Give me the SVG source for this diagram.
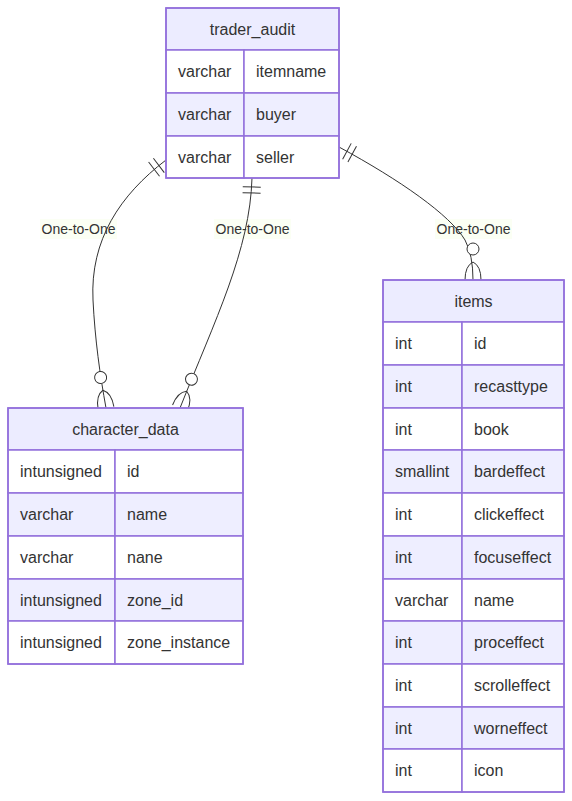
<svg xmlns="http://www.w3.org/2000/svg" width="572" height="801" viewBox="0 0 572 801">
<style>
  .bg { fill: #ffffff; }
  .box { fill: none; stroke: #9370DB; stroke-width: 1.5; }
  .hdr { fill: #ECECFF; stroke: #9370DB; stroke-width: 1.5; }
  .odd { fill: #ffffff; stroke: #9370DB; stroke-width: 1.5; }
  .even { fill: #EEEEFF; stroke: #9370DB; stroke-width: 1.5; }
  .t { font-family: "Liberation Sans", Arial, sans-serif; font-size: 16px; fill: #333333; dominant-baseline: central; }
  .c { text-anchor: middle; }
  .rel { fill: none; stroke: #333333; stroke-width: 1; }
  .lblbg { fill: #f7ffea; opacity: 0.5; }
  .lbl { font-family: "Liberation Sans", Arial, sans-serif; font-size: 14px; fill: #333333; text-anchor: middle; dominant-baseline: central; }
  .mk { fill: none; stroke: #333333; stroke-width: 1; }
  .mkc { fill: #ffffff; stroke: #333333; stroke-width: 1; }
</style>
<defs>
  <g id="one">
    <line class="mk" x1="9" y1="-9" x2="9" y2="9"/>
    <line class="mk" x1="15" y1="-9" x2="15" y2="9"/>
  </g>
  <g id="zom">
    <path class="mk" d="M-8,0 Q-8,-14 0,-18 Q8,-14 8,0"/>
    <circle class="mkc" cx="0" cy="-31" r="6"/>
  </g>
</defs>
<rect class="bg" x="0" y="0" width="572" height="801"/>

<g id="connectors">
  <rect class="lblbg" x="40" y="219" width="77" height="20"/>
  <rect class="lblbg" x="214" y="219" width="77" height="20"/>
  <rect class="lblbg" x="435" y="219" width="77" height="20"/>
  <path class="rel" d="M166,160 C120,195 90,240 93,300 C95,340 100,375 106,408"/>
  <path class="rel" d="M252,178 C250,250 215,320 180,408"/>
  <path class="rel" d="M339,147 C400,180 450,215 465,240 Q473,255 473,280"/>
  <use href="#one" transform="translate(166,160) rotate(142.7)"/>
  <use href="#one" transform="translate(252,178) rotate(91.6)"/>
  <use href="#one" transform="translate(339,147) rotate(28.4)"/>
  <use href="#zom" transform="translate(106,408) rotate(-10)"/>
  <use href="#zom" transform="translate(180,408) rotate(21.7)"/>
  <use href="#zom" transform="translate(473,280)"/>
  <text class="lbl" x="78.5" y="229">One-to-One</text>
  <text class="lbl" x="252.5" y="229">One-to-One</text>
  <text class="lbl" x="473.5" y="229">One-to-One</text>
</g>

<g id="trader_audit">
  <rect class="hdr" x="166" y="8" width="173" height="42"/>
  <text class="t c" x="252.5" y="29">trader_audit</text>
  <rect class="odd" x="166" y="50" width="78" height="43"/>
  <rect class="odd" x="244" y="50" width="95" height="43"/>
  <text class="t" x="178" y="71.5">varchar</text>
  <text class="t" x="256" y="71.5">itemname</text>
  <rect class="even" x="166" y="93" width="78" height="43"/>
  <rect class="even" x="244" y="93" width="95" height="43"/>
  <text class="t" x="178" y="114.5">varchar</text>
  <text class="t" x="256" y="114.5">buyer</text>
  <rect class="odd" x="166" y="136" width="78" height="42"/>
  <rect class="odd" x="244" y="136" width="95" height="42"/>
  <text class="t" x="178" y="157">varchar</text>
  <text class="t" x="256" y="157">seller</text>
  <rect class="box" x="166" y="8" width="173" height="170"/>
</g>

<g id="character_data">
  <rect class="hdr" x="8" y="408" width="235" height="42"/>
  <text class="t c" x="125.5" y="429">character_data</text>
  <rect class="odd" x="8" y="450" width="107" height="43"/>
  <rect class="odd" x="115" y="450" width="128" height="43"/>
  <text class="t" x="20" y="471.5">intunsigned</text>
  <text class="t" x="127" y="471.5">id</text>
  <rect class="even" x="8" y="493" width="107" height="43"/>
  <rect class="even" x="115" y="493" width="128" height="43"/>
  <text class="t" x="20" y="514.5">varchar</text>
  <text class="t" x="127" y="514.5">name</text>
  <rect class="odd" x="8" y="536" width="107" height="43"/>
  <rect class="odd" x="115" y="536" width="128" height="43"/>
  <text class="t" x="20" y="557.5">varchar</text>
  <text class="t" x="127" y="557.5">nane</text>
  <rect class="even" x="8" y="579" width="107" height="42"/>
  <rect class="even" x="115" y="579" width="128" height="42"/>
  <text class="t" x="20" y="600">intunsigned</text>
  <text class="t" x="127" y="600">zone_id</text>
  <rect class="odd" x="8" y="621" width="107" height="43"/>
  <rect class="odd" x="115" y="621" width="128" height="43"/>
  <text class="t" x="20" y="642.5">intunsigned</text>
  <text class="t" x="127" y="642.5">zone_instance</text>
  <rect class="box" x="8" y="408" width="235" height="256"/>
</g>

<g id="items">
  <rect class="hdr" x="383" y="280" width="181" height="42"/>
  <text class="t c" x="473.5" y="301">items</text>
  <rect class="odd" x="383" y="322" width="79" height="43"/>
  <rect class="odd" x="462" y="322" width="102" height="43"/>
  <text class="t" x="395" y="343.5">int</text>
  <text class="t" x="474" y="343.5">id</text>
  <rect class="even" x="383" y="365" width="79" height="43"/>
  <rect class="even" x="462" y="365" width="102" height="43"/>
  <text class="t" x="395" y="386.5">int</text>
  <text class="t" x="474" y="386.5">recasttype</text>
  <rect class="odd" x="383" y="408" width="79" height="42"/>
  <rect class="odd" x="462" y="408" width="102" height="42"/>
  <text class="t" x="395" y="429">int</text>
  <text class="t" x="474" y="429">book</text>
  <rect class="even" x="383" y="450" width="79" height="43"/>
  <rect class="even" x="462" y="450" width="102" height="43"/>
  <text class="t" x="395" y="471.5">smallint</text>
  <text class="t" x="474" y="471.5">bardeffect</text>
  <rect class="odd" x="383" y="493" width="79" height="43"/>
  <rect class="odd" x="462" y="493" width="102" height="43"/>
  <text class="t" x="395" y="514.5">int</text>
  <text class="t" x="474" y="514.5">clickeffect</text>
  <rect class="even" x="383" y="536" width="79" height="43"/>
  <rect class="even" x="462" y="536" width="102" height="43"/>
  <text class="t" x="395" y="557.5">int</text>
  <text class="t" x="474" y="557.5">focuseffect</text>
  <rect class="odd" x="383" y="579" width="79" height="42"/>
  <rect class="odd" x="462" y="579" width="102" height="42"/>
  <text class="t" x="395" y="600">varchar</text>
  <text class="t" x="474" y="600">name</text>
  <rect class="even" x="383" y="621" width="79" height="43"/>
  <rect class="even" x="462" y="621" width="102" height="43"/>
  <text class="t" x="395" y="642.5">int</text>
  <text class="t" x="474" y="642.5">proceffect</text>
  <rect class="odd" x="383" y="664" width="79" height="43"/>
  <rect class="odd" x="462" y="664" width="102" height="43"/>
  <text class="t" x="395" y="685.5">int</text>
  <text class="t" x="474" y="685.5">scrolleffect</text>
  <rect class="even" x="383" y="707" width="79" height="42"/>
  <rect class="even" x="462" y="707" width="102" height="42"/>
  <text class="t" x="395" y="728">int</text>
  <text class="t" x="474" y="728">worneffect</text>
  <rect class="odd" x="383" y="749" width="79" height="43"/>
  <rect class="odd" x="462" y="749" width="102" height="43"/>
  <text class="t" x="395" y="770.5">int</text>
  <text class="t" x="474" y="770.5">icon</text>
  <rect class="box" x="383" y="280" width="181" height="512"/>
</g>
</svg>
